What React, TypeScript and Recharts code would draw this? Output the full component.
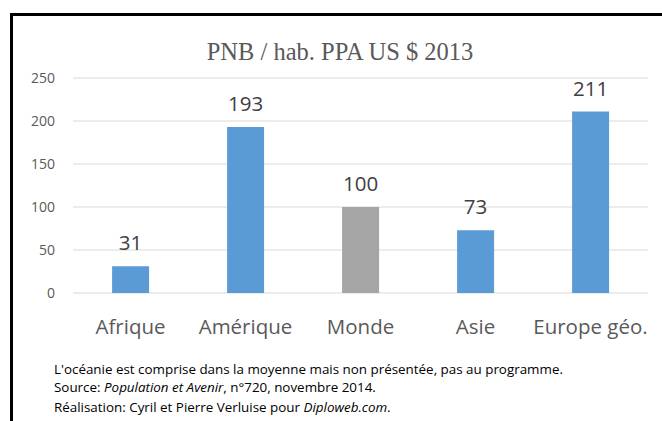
import { BarChart, Bar, XAxis, YAxis, CartesianGrid, Cell, LabelList } from "recharts";

const categories = ["Afrique", "Amérique", "Monde", "Asie", "Europe géo."];
const values = [31, 193, 100, 73, 211];
const yTicks = [0, 50, 100, 150, 200, 250];

const BLUE = "#5b9bd5";
const GREY = "#a5a5a5";
const SANS = "'Open Sans', 'Noto Sans', sans-serif";

const data = categories.map((name, i) => ({ name, value: values[i] }));

export default function App() {
  return (
    <div style={{ position: "absolute", left: 0, top: 0, width: 662, height: 421, background: "#fff", overflow: "hidden" }}>
      {/* frame, runs off the right and bottom edges */}
      <div
        style={{
          position: "absolute",
          left: 10,
          top: 13,
          width: 700,
          height: 500,
          borderLeft: "3px solid #000",
          borderTop: "3px solid #000",
        }}
      />
      <div
        style={{
          position: "absolute",
          left: 0,
          width: 680,
          top: 38,
          textAlign: "center",
          fontFamily: "'Liberation Serif', 'DejaVu Serif', serif",
          fontSize: 24.5,
          color: "#595959",
          lineHeight: "28px",
        }}
      >
        PNB / hab. PPA US $ 2013
      </div>

      <div style={{ position: "absolute", left: 0, top: 0 }}>
        <BarChart
          width={662}
          height={360}
          data={data}
          margin={{ top: 78, right: 14, left: 0, bottom: 17 }}
          barCategoryGap="34%"
        >
          <CartesianGrid vertical={false} stroke="#d9d9d9" />
          <XAxis
            dataKey="name"
            height={50}
            axisLine={false}
            tickLine={false}
            tickMargin={20}
            interval={0}
            tick={{ fontSize: 20.5, fill: "#595959", fontFamily: SANS }}
          />
          <YAxis
            width={73}
            domain={[0, 250]}
            ticks={yTicks}
            axisLine={false}
            tickLine={false}
            tickMargin={12}
            tick={{ fontSize: 14, fill: "#595959", fontFamily: SANS }}
          />
          <Bar dataKey="value" isAnimationActive={false}>
            {data.map((d) => (
              <Cell key={d.name} fill={d.name === "Monde" ? GREY : BLUE} />
            ))}
            <LabelList
              dataKey="value"
              position="top"
              offset={16}
              style={{ fontSize: 20.5, fill: "#404040", fontFamily: SANS }}
            />
          </Bar>
        </BarChart>
      </div>

      <div
        style={{
          position: "absolute",
          left: 54,
          top: 360,
          fontFamily: SANS,
          fontSize: 13.4,
          color: "#000",
          lineHeight: "18px",
        }}
      >
        <div>L'océanie est comprise dans la moyenne mais non présentée, pas au programme.</div>
        <div>
          Source: <i>Population et Avenir</i>, n°720, novembre 2014.
        </div>
        <div style={{ marginTop: 2 }}>
          Réalisation: Cyril et Pierre Verluise pour <i>Diploweb.com</i>.
        </div>
      </div>
    </div>
  );
}
